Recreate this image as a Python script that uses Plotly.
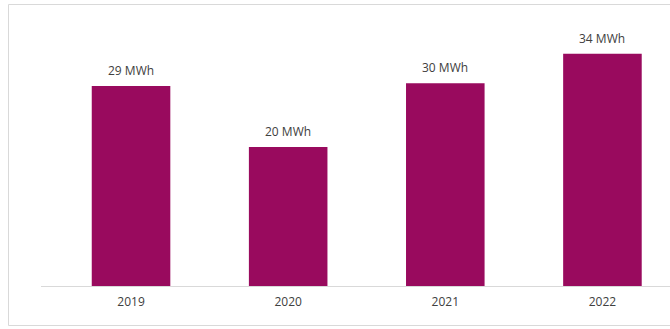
import plotly.graph_objects as go

years = ["2019", "2020", "2021", "2022"]
values = [29.2, 20.3, 29.6, 33.9]
labels = ["29 MWh", "20 MWh", "30 MWh", "34 MWh"]

W, H = 670, 329
ml, mr, mt, mb = 41, 0, 20, 43
ph = H - mt - mb
pw = W - ml - mr

def px_x(x):
    return (x - ml) / pw

def px_y(y):
    return (H - mb - y) / ph

fig = go.Figure()
fig.add_trace(go.Bar(
    x=list(range(len(years))), y=values,
    marker=dict(color="#990A5E", line=dict(width=0)),
    width=0.5,
))

for i, (v, t) in enumerate(zip(values, labels)):
    fig.add_annotation(x=i, y=v, text=t, showarrow=False, yanchor="bottom",
                       yshift=5, font=dict(family="Open Sans", size=12, color="#404040"))

fig.update_layout(
    width=W, height=H,
    margin=dict(l=ml, r=mr, t=mt, b=mb),
    paper_bgcolor="white", plot_bgcolor="white",
    showlegend=False,
    xaxis=dict(
        tickmode="array", tickvals=list(range(len(years))), ticktext=years,
        range=[-0.573, 3.43],
        showline=True, linecolor="#d9d9d9", linewidth=1,
        showgrid=False, zeroline=False, ticks="",
        ticklabelstandoff=5,
        tickfont=dict(family="Open Sans", size=12, color="#404040"),
    ),
    yaxis=dict(
        range=[0, ph / 6.85], visible=False, showgrid=False, zeroline=False,
    ),
)
fig.add_shape(type="rect", xref="paper", yref="paper",
              x0=px_x(8.5), x1=px_x(700), y0=px_y(325.5), y1=px_y(4.5),
              line=dict(color="#d9d9d9", width=1), layer="below")

fig.write_html("out.html")
